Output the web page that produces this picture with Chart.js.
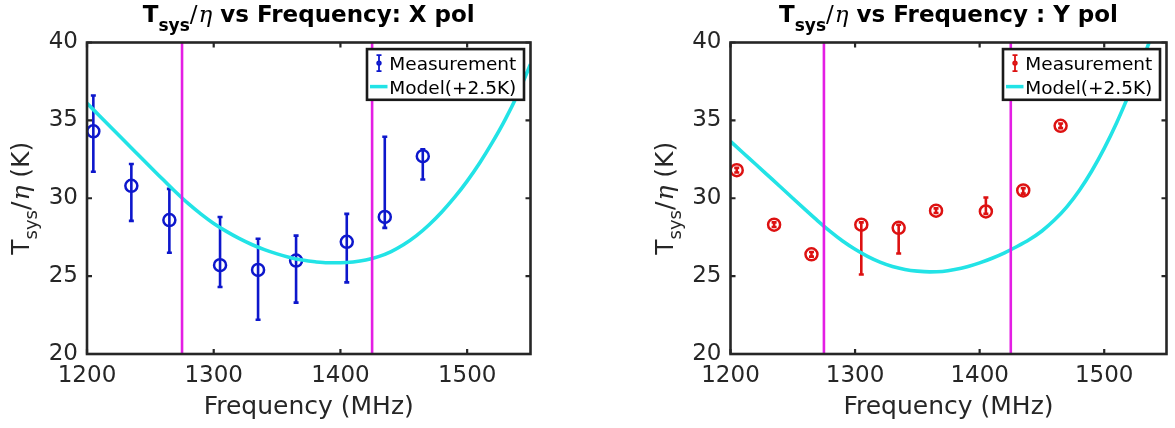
<!DOCTYPE html>
<html><head><meta charset="utf-8">
<script src="https://cdn.jsdelivr.net/npm/chart.js@4.4.1/dist/chart.umd.min.js"></script>
<style>
html,body{margin:0;padding:0;background:#fff;}
#wrap{position:relative;width:1175px;height:428px;overflow:hidden;background:#fff;}
.c{position:absolute;top:0;height:428px;}
</style></head><body>
<div id="wrap">
<div class="c" style="left:0;width:587px"><canvas id="cx"></canvas></div>
<div class="c" style="left:587px;width:588px"><canvas id="cy"></canvas></div>
</div>
<script>
// ---------------- data ----------------
const freq = [1205, 1235, 1265, 1305, 1335, 1365, 1405, 1435, 1465];
const xpolVal  = [34.3, 30.8, 28.6, 25.7, 25.4, 26.0, 27.2, 28.8, 32.7];
const xpolLow  = [31.7, 28.55, 26.5, 24.3, 22.2, 23.3, 24.6, 28.1, 31.2];
const xpolHigh = [36.6, 32.2, 30.6, 28.8, 27.4, 27.6, 29.0, 33.95, 33.15];
const ypolVal  = [31.8, 28.3, 26.4, 28.3, 28.1, 29.2, 29.15, 30.5, 34.65];
const ypolLow  = [31.65, 28.15, 26.25, 25.1, 26.45, 29.05, 29.0, 30.3, 34.5];
const ypolHigh = [31.95, 28.45, 26.55, 28.45, 28.3, 29.35, 30.05, 30.65, 34.8];
const modelFreq = [1200,1210,1220,1230,1240,1250,1260,1270,1280,1290,1300,1310,1320,1330,1340,1350,1360,1370,1380,1390,1400,1410,1420,1430,1440,1450,1460,1470,1480,1490,1500,1510,1520,1530,1540,1550];
const modelX = [36.1,35.28,34.46,33.64,32.82,32.0,31.2,30.4,29.65,28.98,28.38,27.87,27.42,27.03,26.7,26.43,26.2,26.03,25.92,25.86,25.86,25.91,26.03,26.25,26.58,27.03,27.6,28.3,29.12,30.05,31.1,32.28,33.6,35.05,36.7,38.6];
const modelY = [33.65,32.92,32.2,31.47,30.74,30.0,29.27,28.55,27.87,27.25,26.72,26.27,25.9,25.62,25.43,25.32,25.27,25.3,25.42,25.6,25.85,26.15,26.5,26.9,27.35,27.9,28.6,29.45,30.5,31.75,33.2,34.85,36.7,38.7,40.9,43.3];
const bandEdges = [1275, 1425];
const xTicks = [1200, 1300, 1400, 1500];
const yTicks = [20, 25, 30, 35, 40];
const xRange = [1200, 1550];
const yRange = [20, 40];
const legendLabels = ['Measurement', 'Model(+2.5K)'];
const xAxisTitle = 'Frequency (MHz)';

// ---------------- styles ----------------
const AX = '#262626';
const FONT = '"DejaVu Sans", sans-serif';
const SERIF = '"DejaVu Serif", serif';
const CYAN = '#22e3e6';
const MAG = '#e41ee4';

function drawRich(ctx, parts, x, y, align) {
  let w = 0;
  parts.forEach(p => { ctx.font = p.f; w += ctx.measureText(p.t).width + (p.gap || 0); });
  let cx = align === 'center' ? x - w / 2 : x;
  ctx.textAlign = 'left';
  ctx.textBaseline = 'alphabetic';
  parts.forEach(p => {
    ctx.font = p.f;
    ctx.fillText(p.t, cx, y + (p.dy || 0));
    cx += ctx.measureText(p.t).width + (p.gap || 0);
  });
}

function makeChart(id, cfg) {
  const overlay = {
    id: 'overlay_' + id,
    beforeDatasetsDraw(chart) {
      const {ctx, chartArea: a} = chart;
      const xs = chart.scales.x, ys = chart.scales.y;
      ctx.save();
      ctx.beginPath(); ctx.rect(a.left, a.top, a.right - a.left, a.bottom - a.top); ctx.clip();
      ctx.strokeStyle = cfg.color; ctx.lineWidth = 2.6; ctx.lineCap = 'butt';
      for (let i = 0; i < freq.length; i++) {
        const px = xs.getPixelForValue(freq[i]);
        const pl = ys.getPixelForValue(cfg.low[i]);
        const ph = ys.getPixelForValue(cfg.high[i]);
        ctx.beginPath();
        ctx.moveTo(px, pl); ctx.lineTo(px, ph);
        ctx.moveTo(px - 2.5, pl); ctx.lineTo(px + 2.5, pl);
        ctx.moveTo(px - 2.5, ph); ctx.lineTo(px + 2.5, ph);
        ctx.stroke();
      }
      ctx.restore();
    },
    afterDraw(chart) {
      const {ctx, chartArea: a} = chart;
      const xs = chart.scales.x, ys = chart.scales.y;
      ctx.save();
      // frame
      ctx.strokeStyle = AX; ctx.lineWidth = 2.6;
      ctx.strokeRect(a.left, a.top, a.right - a.left, a.bottom - a.top);
      // inward tick marks
      ctx.lineWidth = 2.2;
      ctx.beginPath();
      xTicks.forEach(v => {
        const p = xs.getPixelForValue(v);
        ctx.moveTo(p, a.bottom); ctx.lineTo(p, a.bottom - 5);
        ctx.moveTo(p, a.top); ctx.lineTo(p, a.top + 5);
      });
      yTicks.forEach(v => {
        const p = ys.getPixelForValue(v);
        ctx.moveTo(a.left, p); ctx.lineTo(a.left + 5, p);
        ctx.moveTo(a.right, p); ctx.lineTo(a.right - 5, p);
      });
      ctx.stroke();
      // title
      const cxm = (a.left + a.right) / 2;
      ctx.fillStyle = '#000';
      drawRich(ctx, [
        {t: 'T', f: 'bold 23px ' + FONT},
        {t: 'sys', f: 'bold 17px ' + FONT, dy: 9.5},
        {t: '/', f: '23px ' + FONT, gap: 1},
        {t: '\u03b7', f: 'italic 23px ' + SERIF},
        {t: cfg.titleRest, f: 'bold 23px ' + FONT}
      ], cxm, 21.5, 'center');
      // x axis title
      ctx.fillStyle = AX;
      ctx.font = '25px ' + FONT; ctx.textAlign = 'center'; ctx.textBaseline = 'alphabetic';
      ctx.fillText(xAxisTitle, cxm, 414);
      // y axis title
      ctx.save();
      ctx.translate(cfg.yTitleX, (a.top + a.bottom) / 2);
      ctx.rotate(-Math.PI / 2);
      drawRich(ctx, [
        {t: 'T', f: '25px ' + FONT},
        {t: 'sys', f: '18px ' + FONT, dy: 8},
        {t: '/', f: '25px ' + FONT, gap: 1},
        {t: '\u03b7', f: 'italic 25px ' + SERIF},
        {t: ' (K)', f: '25px ' + FONT}
      ], 0, 0, 'center');
      ctx.restore();
      // legend
      const lr = a.right - 6.5, lw = 157, lt = a.top + 6.6, lh = 50.7;
      const ll = lr - lw;
      ctx.fillStyle = '#fff';
      ctx.fillRect(ll, lt, lw, lh);
      ctx.strokeStyle = '#1a1a1a'; ctx.lineWidth = 2.6;
      ctx.strokeRect(ll, lt, lw, lh);
      const r1 = lt + 13.5, r2 = lt + 37.5;
      // errorbar icon
      ctx.strokeStyle = cfg.color; ctx.lineWidth = 1.8;
      const ix = ll + 12;
      ctx.beginPath();
      ctx.moveTo(ix, r1 - 7.5); ctx.lineTo(ix, r1 + 8.5);
      ctx.moveTo(ix - 2.5, r1 - 7.5); ctx.lineTo(ix + 2.5, r1 - 7.5);
      ctx.moveTo(ix - 2.5, r1 + 8.5); ctx.lineTo(ix + 2.5, r1 + 8.5);
      ctx.stroke();
      ctx.beginPath(); ctx.arc(ix, r1 + 0.5, 1.8, 0, Math.PI * 2); ctx.stroke();
      // line icon
      ctx.strokeStyle = CYAN; ctx.lineWidth = 3.5;
      ctx.beginPath(); ctx.moveTo(ll + 3, r2); ctx.lineTo(ll + 20.5, r2); ctx.stroke();
      ctx.fillStyle = '#000';
      ctx.font = '18.5px ' + FONT; ctx.textAlign = 'left'; ctx.textBaseline = 'alphabetic';
      ctx.fillText(legendLabels[0], ll + 22.3, r1 + 7.3);
      ctx.fillText(legendLabels[1], ll + 22.3, r2 + 7);
      ctx.restore();
    }
  };

  return new Chart(document.getElementById(id), {
    type: 'scatter',
    data: {
      datasets: [
        {
          label: legendLabels[0],
          data: freq.map((f, i) => ({x: f, y: cfg.val[i]})),
          showLine: false,
          pointStyle: 'circle',
          pointRadius: 6,
          pointHoverRadius: 6,
          pointBorderWidth: 2.5,
          borderColor: cfg.color,
          pointBorderColor: cfg.color,
          pointBackgroundColor: 'rgba(0,0,0,0)',
          backgroundColor: 'rgba(0,0,0,0)',
          order: 3
        },
        {
          label: legendLabels[1],
          data: modelFreq.map((f, i) => ({x: f, y: cfg.model[i]})),
          showLine: true,
          borderColor: CYAN,
          borderWidth: 3.6,
          pointRadius: 0,
          tension: 0.4,
          cubicInterpolationMode: 'monotone',
          fill: false,
          clip: 0,
          order: 2
        },
        ...bandEdges.map(b => ({
          label: 'edge',
          data: [{x: b, y: yRange[0]}, {x: b, y: yRange[1]}],
          showLine: true,
          borderColor: MAG,
          borderWidth: 2.6,
          pointRadius: 0,
          fill: false,
          clip: 0,
          order: 1
        }))
      ]
    },
    options: {
      responsive: true,
      maintainAspectRatio: false,
      animation: false,
      devicePixelRatio: 1,
      layout: {padding: {left: 0, right: cfg.padRight, top: 42.5, bottom: 0}},
      plugins: {legend: {display: false}, tooltip: {enabled: false}, title: {display: false}},
      scales: {
        x: {
          type: 'linear', min: xRange[0], max: xRange[1],
          afterBuildTicks: s => { s.ticks = xTicks.map(v => ({value: v})); },
          afterFit: s => { s.height = 74; },
          grid: {display: false, drawTicks: false},
          border: {display: false},
          ticks: {color: AX, font: {family: FONT, size: 23}, padding: 8, maxRotation: 0, autoSkip: false,
                  callback: v => String(v)}
        },
        y: {
          type: 'linear', min: yRange[0], max: yRange[1],
          afterBuildTicks: s => { s.ticks = yTicks.map(v => ({value: v})); },
          afterFit: s => { s.width = cfg.yWidth; },
          grid: {display: false, drawTicks: false},
          border: {display: false},
          ticks: {color: AX, font: {family: FONT, size: 23}, padding: 9, autoSkip: false,
                  callback: v => String(v)}
        }
      }
    },
    plugins: [overlay]
  });
}

makeChart('cx', {
  val: xpolVal, low: xpolLow, high: xpolHigh, model: modelX,
  color: '#0d17cc', titleRest: ' vs Frequency: X pol',
  yWidth: 87, padRight: 56.5, yTitleX: 29
});
makeChart('cy', {
  val: ypolVal, low: ypolLow, high: ypolHigh, model: modelY,
  color: '#dd1111', titleRest: ' vs Frequency : Y pol',
  yWidth: 143.5, padRight: 1.5, yTitleX: 143.5 - 58
});
</script>
</body></html>
